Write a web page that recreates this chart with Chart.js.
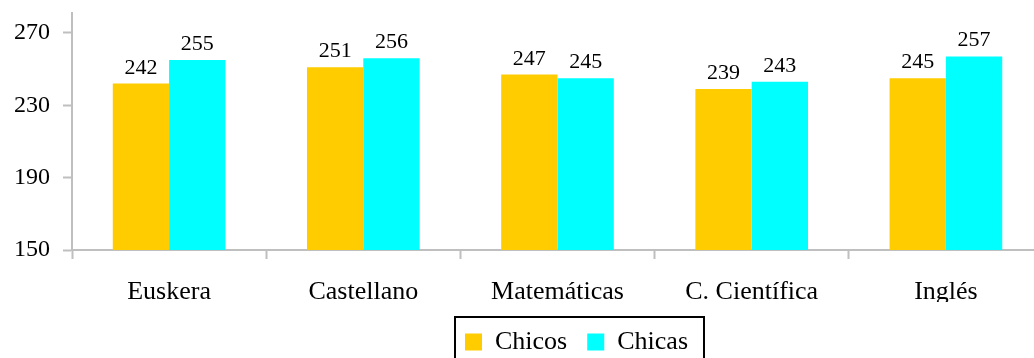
<!DOCTYPE html>
<html>
<head>
<meta charset="utf-8">
<script src="https://cdn.jsdelivr.net/npm/chart.js@4"></script>
<style>
  html, body { margin: 0; padding: 0; background: #fff; overflow: hidden; }
  #wrap { width: 1050px; height: 358px; }
</style>
</head>
<body>
<div id="wrap"><canvas id="chart" width="1050" height="358"></canvas></div>
<script>
// chart values
const categories = ['Euskera', 'Castellano', 'Matemáticas', 'C. Científica', 'Inglés'];
const chicos = [242, 251, 247, 239, 245];
const chicas = [255, 256, 245, 243, 257];
const yTicks = [150, 190, 230, 270];

const FONT = "'Liberation Serif', serif";
const AXIS = '#bfbfbf';

// value labels above each bar
const barLabels = {
    id: 'barLabels',
    afterDatasetsDraw(chart) {
        const ctx = chart.ctx;
        ctx.save();
        ctx.font = '22px ' + FONT;
        ctx.fillStyle = '#000';
        ctx.textAlign = 'center';
        ctx.textBaseline = 'alphabetic';
        chart.data.datasets.forEach((ds, i) => {
            chart.getDatasetMeta(i).data.forEach((bar, j) => {
                ctx.fillText(String(ds.data[j]), bar.x, bar.y - 10);
            });
        });
        ctx.restore();
    }
};

// move the legend a bit right and down, like the original
const legendShift = {
    id: 'legendShift',
    afterLayout(chart) {
        const lg = chart.legend;
        if (!lg) return;
        lg.left += 55; lg.right += 55;
        lg.top += 7; lg.bottom += 7;
    }
};

// black frame round the legend
const legendFrame = {
    id: 'legendFrame',
    afterDraw(chart) {
        const boxes = chart.legend && chart.legend.legendHitBoxes;
        if (!boxes || !boxes.length) return;
        const left = Math.min(...boxes.map(b => b.left)) - 10;
        const right = Math.max(...boxes.map(b => b.left + b.width)) + 16;
        const top = Math.min(...boxes.map(b => b.top)) - 12;
        const ctx = chart.ctx;
        ctx.save();
        ctx.strokeStyle = '#000';
        ctx.lineWidth = 2;
        ctx.strokeRect(left, top, right - left, 60);
        ctx.restore();
    }
};

new Chart(document.getElementById('chart'), {
    type: 'bar',
    data: {
        labels: categories,
        datasets: [
            { label: 'Chicos', data: chicos, backgroundColor: '#ffcc00', borderWidth: 0 },
            { label: 'Chicas', data: chicas, backgroundColor: '#00ffff', borderWidth: 0 }
        ]
    },
    options: {
        responsive: false,
        animation: false,
        categoryPercentage: 0.58,
        barPercentage: 1,
        layout: { padding: { left: 0, right: 7, top: 13, bottom: 0 } },
        plugins: {
            legend: {
                position: 'bottom',
                labels: {
                    boxWidth: 17,
                    boxHeight: 17,
                    padding: 20,
                    color: '#000',
                    font: { family: FONT, size: 26 }
                }
            },
            tooltip: { enabled: false }
        },
        scales: {
            x: {
                grid: {
                    drawOnChartArea: false,
                    drawTicks: true,
                    tickLength: 9,
                    tickWidth: 2,
                    color: AXIS
                },
                border: { color: AXIS, width: 2 },
                ticks: {
                    color: '#000',
                    padding: 18,
                    maxRotation: 0,
                    font: { family: FONT, size: 26 }
                },
                afterFit(scale) { scale.height = 52; scale.paddingLeft = 0; scale.paddingRight = 0; }
            },
            y: {
                min: 150,
                max: 281,
                grid: {
                    drawOnChartArea: false,
                    drawTicks: true,
                    tickLength: 9,
                    tickWidth: 2,
                    color: AXIS
                },
                border: { color: AXIS, width: 2 },
                ticks: {
                    color: '#000',
                    padding: 13,
                    font: { family: FONT, size: 24 }
                },
                afterBuildTicks(scale) {
                    scale.ticks = yTicks.map(v => ({ value: v }));
                },
                afterFit(scale) { scale.width = 72; scale.paddingTop = 0; scale.paddingBottom = 0; }
            }
        }
    },
    plugins: [barLabels, legendShift, legendFrame]
});
</script>
</body>
</html>
